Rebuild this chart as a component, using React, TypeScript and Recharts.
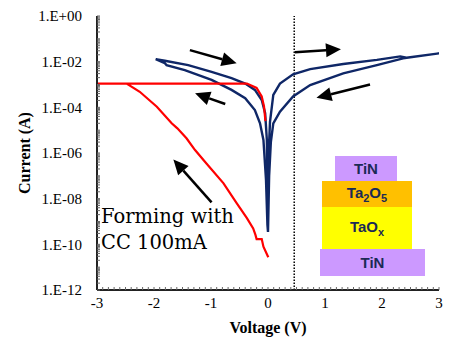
import { Label, Line, LineChart, ReferenceLine, XAxis, YAxis } from "recharts";

// axis ticks
const voltLabels = [-3, -2, -1, 0, 1, 2, 3];
const currentLabels = [1e-12, 1e-10, 1e-8, 1e-6, 1e-4, 1e-2, 1];

// switching loop, one pass: 0 → -2 V → 0 → +3 V → 0
const sweepV = [
  0, -0.01, -0.035, -0.08, -0.14, -0.23, -0.4, -0.64, -0.99, -1.46, -1.78, -1.81, -1.97,
  -1.81, -1.4, -0.99, -0.64, -0.4, -0.23, -0.11, -0.05, -0.02, -0.008, 0,
  0.01, 0.02, 0.035, 0.093, 0.21, 0.44, 0.74, 1.32, 1.91, 2.32, 2.43, 3.0,
  2.37, 1.91, 1.32, 0.74, 0.44, 0.21, 0.093, 0.05, 0.02, 0,
];
const sweepI = [
  3.5e-10, 7e-10, 6.6e-8, 3.7e-6, 2.0e-5, 7.6e-5, 2.5e-4, 5.8e-4, 1.6e-3, 4.3e-3, 7.1e-3, 8.5e-3, 1.3e-2,
  1.1e-2, 7.1e-3, 3.6e-3, 1.9e-3, 1.1e-3, 5.8e-4, 2.1e-4, 5.5e-5, 3.7e-6, 2.5e-8, 3.5e-10,
  3e-8, 3e-6, 2.3e-5, 3.5e-4, 1.1e-3, 2.8e-3, 4.7e-3, 7.9e-3, 1.2e-2, 1.7e-2, 1.5e-2, 2.3e-2,
  1.4e-2, 7.1e-3, 3.1e-3, 9.5e-4, 3.0e-4, 6.5e-5, 2.0e-5, 3e-6, 1e-7, 3.5e-10,
];

// forming sweep (red)
const formingV = [
  0.005, -0.08, -0.11, -0.2, -0.22, -0.26, -0.37, -0.55, -0.78, -1.08, -1.28, -1.43, -1.59,
  -1.69, -1.95, -2.25, -2.48, -3.0, -0.37, -0.2, -0.11, -0.07, -0.045,
];
const formingI = [
  2.7e-11, 7.9e-11, 1.7e-10, 1.7e-10, 2.6e-10, 5.0e-10, 1.4e-9, 6.3e-9, 4.7e-8, 3.5e-7, 1.35e-6, 4.4e-6, 1.2e-5,
  2.0e-5, 1.07e-4, 4.8e-4, 1.1e-3, 1.1e-3, 1.1e-3, 7.1e-4, 3.0e-4, 1.1e-4, 2.5e-5,
];

// annotation arrows: [tailV, tailI, tipV, tipI]
const arrows = [
  [-1.37, 3.2e-2, -0.55, 8.5e-3],
  [-0.75, 1.4e-4, -1.28, 4.1e-4],
  [0.47, 2.6e-2, 1.28, 3.5e-2],
  [1.79, 1.0e-3, 0.85, 2.6e-4],
  [-0.99, 6.9e-9, -1.66, 5.2e-7],
];

const sweep = sweepV.map((v, k) => ({ v, i: sweepI[k] }));
const forming = formingV.map((v, k) => ({ v, i: formingI[k] }));

const xMinor = Array.from({ length: 61 }, (_, k) => Math.round(k - 30) / 10);
const yMinor: number[] = [];
for (let e = -12; e < 0; e++) {
  for (let m = 1; m < 10; m++) yMinor.push(Number(`${m}e${e}`));
}
yMinor.push(1);

const fmtCurrent = (v: number) => {
  const e = Math.round(Math.log10(v));
  if (!currentLabels.some((c) => Math.abs(Math.log10(c) - Math.log10(v)) < 1e-6)) return "";
  return `1.E${e < 0 ? "-" : "+"}${String(Math.abs(e)).padStart(2, "0")}`;
};
const fmtVolt = (v: number) =>
  voltLabels.some((t) => Math.abs(t - v) < 1e-6) ? String(Math.round(v)) : "";

const SERIF = "'Liberation Serif', 'Times New Roman', Times, serif";
const SANS = "'Liberation Sans', Arial, Helvetica, sans-serif";

function XTick({ x, y, payload }: any) {
  const s = fmtVolt(payload.value);
  if (!s) return null;
  return (
    <text x={x} y={y} dy="0.75em" textAnchor="middle" style={{ fontFamily: SERIF, fontSize: 15, fill: "#000" }}>
      {s}
    </text>
  );
}

function YTick({ x, y, payload }: any) {
  const s = fmtCurrent(payload.value);
  if (!s) return null;
  return (
    <text x={x} y={y} dy="0.35em" textAnchor="end" style={{ fontFamily: SERIF, fontSize: 15, fill: "#000" }}>
      {s}
    </text>
  );
}

function Arrow(props: any) {
  const { x1, y1, x2, y2 } = props;
  const dx = x2 - x1;
  const dy = y2 - y1;
  const len = Math.hypot(dx, dy) || 1;
  const ux = dx / len;
  const uy = dy / len;
  const head = 15;
  const half = 7;
  const bx = x2 - ux * head;
  const by = y2 - uy * head;
  return (
    <g>
      <line x1={x1} y1={y1} x2={bx} y2={by} stroke="#000" strokeWidth={2.5} />
      <polygon
        points={`${x2},${y2} ${bx - uy * half},${by + ux * half} ${bx + uy * half},${by - ux * half}`}
        fill="#000"
      />
    </g>
  );
}

const titleFont = { fontFamily: SERIF, fontSize: 16, fontWeight: 700, fill: "#000" };

const layer = (bg: string) => ({
  position: "absolute" as const,
  background: bg,
  display: "flex",
  alignItems: "center",
  justifyContent: "center",
  fontFamily: SANS,
  fontWeight: 700,
  fontSize: 15,
  color: "#1b2a55",
});

export default function App() {
  return (
    <div
      style={{
        position: "absolute",
        left: 0,
        top: 0,
        width: 454,
        height: 345,
        background: "#fff",
        fontFamily: SERIF,
      }}
    >
      <LineChart width={454} height={345} margin={{ top: 16, right: 15, bottom: 0, left: 0 }}>
        <XAxis
          dataKey="v"
          type="number"
          domain={[-3, 3]}
          allowDataOverflow
          ticks={xMinor}
          interval={0}
          tick={<XTick />}
          tickSize={-3}
          tickMargin={10}
          tickLine={{ stroke: "#666" }}
          axisLine={{ stroke: "#222", strokeWidth: 2 }}
          height={55}
        >
          <Label value="Voltage (V)" position="insideBottom" offset={12} style={titleFont} />
        </XAxis>
        <XAxis xAxisId="top" orientation="top" type="number" domain={[-3, 3]} height={0} tick={false} tickLine={false} axisLine={{ stroke: "#000", strokeWidth: 2 }} />
        <YAxis
          type="number"
          scale="log"
          domain={[1e-12, 1]}
          allowDataOverflow
          ticks={yMinor}
          interval={0}
          tick={<YTick />}
          tickSize={-3}
          tickMargin={18}
          tickLine={{ stroke: "#666" }}
          axisLine={{ stroke: "#222", strokeWidth: 2 }}
          width={97}
        >
          <Label value="Current (A)" angle={-90} position="insideLeft" offset={24} style={{ ...titleFont, textAnchor: "middle" }} />
        </YAxis>
        <YAxis yAxisId="right" orientation="right" type="number" domain={[0, 1]} width={0} tick={false} tickLine={false} axisLine={{ stroke: "#000", strokeWidth: 2.5 }} />
        <ReferenceLine x={0.46} stroke="#000" strokeWidth={1.5} strokeDasharray="1.5 1.5" />
        <Line data={sweep} dataKey="i" type="linear" stroke="#0f2767" strokeWidth={2.4} dot={false} isAnimationActive={false} />
        <Line data={forming} dataKey="i" type="linear" stroke="#ff0000" strokeWidth={2.2} dot={false} isAnimationActive={false} />
        {arrows.map(([v1, i1, v2, i2], k) => (
          <ReferenceLine key={k} segment={[{ x: v1, y: i1 }, { x: v2, y: i2 }]} shape={<Arrow />} ifOverflow="visible" />
        ))}
      </LineChart>
      <div
        style={{
          position: "absolute",
          left: 101,
          top: 204,
          fontFamily: "'DejaVu Serif', serif",
          fontSize: 19.5,
          lineHeight: "26px",
          color: "#000",
          whiteSpace: "nowrap",
        }}
      >
        Forming with
        <br />
        CC 100mA
      </div>
      <div style={{ ...layer("#cc99ff"), left: 335, top: 156, width: 62, height: 25 }}>TiN</div>
      <div style={{ ...layer("#ffc000"), left: 322, top: 181, width: 90, height: 26 }}>
        <span>
          Ta<sub style={{ fontSize: 11 }}>2</sub>O<sub style={{ fontSize: 11 }}>5</sub>
        </span>
      </div>
      <div style={{ ...layer("#ffff00"), left: 322, top: 207, width: 90, height: 42 }}>
        <span>
          TaO<sub style={{ fontSize: 11 }}>x</sub>
        </span>
      </div>
      <div style={{ ...layer("#cc99ff"), left: 320, top: 249, width: 105, height: 27 }}>TiN</div>
    </div>
  );
}
